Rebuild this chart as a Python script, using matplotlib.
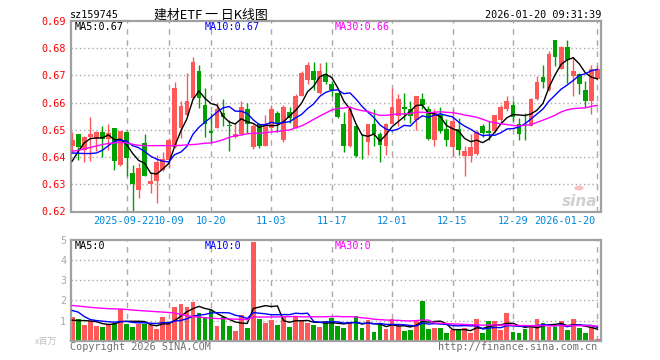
import numpy as np
import pandas as pd
import matplotlib
matplotlib.use("Agg")
import matplotlib.pyplot as plt
from matplotlib.patches import Circle

# ---------------- data ----------------
dates = [d for d in pd.bdate_range("2025-09-09", "2026-01-20")
         if not (pd.Timestamp("2025-10-01") <= d <= pd.Timestamp("2025-10-08"))
         and d not in (pd.Timestamp("2026-01-01"), pd.Timestamp("2026-01-02"))]

opens = [0.6442, 0.6483, 0.6425, 0.6474, 0.6467, 0.6493, 0.6468, 0.6505, 0.6372, 0.6493,
         0.6342, 0.6280, 0.6452, 0.6302, 0.6313, 0.6354, 0.6388, 0.6436, 0.6507, 0.6553,
         0.6618, 0.6716, 0.6593, 0.6494, 0.6507, 0.6562, 0.6517, 0.6474, 0.6483, 0.6575,
         0.6436, 0.6520, 0.6442, 0.6507, 0.6562, 0.6464, 0.6565, 0.6507, 0.6626, 0.6685,
         0.6716, 0.6634, 0.6707, 0.6667, 0.6634, 0.6523, 0.6442, 0.6516, 0.6442, 0.6454,
         0.6523, 0.6483, 0.6440, 0.6523, 0.6550, 0.6585, 0.6575, 0.6538, 0.6614, 0.6577,
         0.6464, 0.6553, 0.6504, 0.6436, 0.6504, 0.6403, 0.6403, 0.6413, 0.6516, 0.6494,
         0.6495, 0.6535, 0.6575, 0.6593, 0.6523, 0.6545, 0.6516, 0.6614, 0.6695, 0.6646,
         0.6829, 0.6724, 0.6805, 0.6697, 0.6707, 0.6646, 0.6605, 0.6688]
highs = [0.6491, 0.6485, 0.6477, 0.6547, 0.6495, 0.6516, 0.6523, 0.6507, 0.6497, 0.6495,
         0.6372, 0.6378, 0.6483, 0.6344, 0.6409, 0.6418, 0.6470, 0.6675, 0.6605, 0.6710,
         0.6767, 0.6737, 0.6654, 0.6562, 0.6599, 0.6614, 0.6538, 0.6526, 0.6605, 0.6599,
         0.6522, 0.6526, 0.6553, 0.6590, 0.6569, 0.6593, 0.6585, 0.6630, 0.6716, 0.6749,
         0.6749, 0.6746, 0.6749, 0.6679, 0.6636, 0.6565, 0.6585, 0.6518, 0.6483, 0.6523,
         0.6577, 0.6491, 0.6526, 0.6654, 0.6630, 0.6634, 0.6605, 0.6626, 0.6634, 0.6587,
         0.6575, 0.6585, 0.6540, 0.6575, 0.6544, 0.6440, 0.6483, 0.6501, 0.6523, 0.6532,
         0.6556, 0.6593, 0.6626, 0.6605, 0.6544, 0.6562, 0.6616, 0.6697, 0.6737, 0.6789,
         0.6830, 0.6808, 0.6829, 0.6769, 0.6710, 0.6679, 0.6737, 0.6737]
lows = [0.6418, 0.6391, 0.6381, 0.6385, 0.6421, 0.6400, 0.6427, 0.6351, 0.6366, 0.6329,
        0.6201, 0.6250, 0.6329, 0.6268, 0.6231, 0.6348, 0.6360, 0.6434, 0.6470, 0.6550,
        0.6615, 0.6581, 0.6474, 0.6452, 0.6505, 0.6516, 0.6421, 0.6470, 0.6480, 0.6489,
        0.6430, 0.6434, 0.6440, 0.6501, 0.6491, 0.6454, 0.6526, 0.6505, 0.6624, 0.6667,
        0.6648, 0.6630, 0.6667, 0.6624, 0.6544, 0.6418, 0.6437, 0.6400, 0.6393, 0.6409,
        0.6442, 0.6381, 0.6409, 0.6520, 0.6513, 0.6538, 0.6526, 0.6501, 0.6577, 0.6462,
        0.6440, 0.6489, 0.6440, 0.6400, 0.6409, 0.6329, 0.6381, 0.6409, 0.6474, 0.6462,
        0.6489, 0.6526, 0.6569, 0.6532, 0.6462, 0.6462, 0.6513, 0.6611, 0.6654, 0.6643,
        0.6734, 0.6722, 0.6673, 0.6626, 0.6630, 0.6585, 0.6560, 0.6685]
closes = [0.6464, 0.6436, 0.6474, 0.6483, 0.6493, 0.6467, 0.6489, 0.6385, 0.6495, 0.6397,
          0.6302, 0.6360, 0.6332, 0.6313, 0.6382, 0.6393, 0.6464, 0.6654, 0.6587, 0.6605,
          0.6749, 0.6618, 0.6520, 0.6490, 0.6575, 0.6547, 0.6513, 0.6483, 0.6585, 0.6520,
          0.6516, 0.6442, 0.6523, 0.6575, 0.6526, 0.6585, 0.6544, 0.6626, 0.6710, 0.6737,
          0.6685, 0.6716, 0.6675, 0.6646, 0.6547, 0.6442, 0.6575, 0.6403, 0.6439, 0.6522,
          0.6483, 0.6446, 0.6523, 0.6585, 0.6614, 0.6575, 0.6550, 0.6624, 0.6593, 0.6467,
          0.6562, 0.6495, 0.6464, 0.6534, 0.6425, 0.6424, 0.6436, 0.6491, 0.6489, 0.6490,
          0.6553, 0.6585, 0.6605, 0.6548, 0.6483, 0.6542, 0.6614, 0.6675, 0.6675, 0.6780,
          0.6769, 0.6805, 0.6756, 0.6716, 0.6667, 0.6605, 0.6724, 0.6724]
volumes = [1.16, 1.06, 0.78, 1.00, 0.73, 0.68, 0.83, 0.90, 1.58, 0.83,
           0.68, 0.83, 0.83, 0.78, 0.58, 1.16, 0.83, 1.68, 1.83, 1.68,
           1.93, 1.40, 1.16, 1.53, 0.73, 1.16, 0.73, 0.50, 1.26, 0.63,
           4.88, 1.08, 0.86, 1.03, 0.78, 1.23, 0.68, 1.23, 1.03, 0.86,
           0.78, 0.68, 1.00, 1.13, 0.73, 0.63, 0.90, 1.23, 0.63, 1.03,
           0.43, 0.83, 0.58, 1.08, 0.73, 0.48, 0.53, 1.03, 1.99, 0.58,
           0.63, 0.63, 0.38, 0.53, 0.58, 0.63, 0.38, 1.08, 0.38, 1.00,
           0.98, 0.53, 1.40, 0.43, 0.38, 0.58, 0.73, 1.08, 0.88, 0.68,
           0.68, 0.98, 0.53, 1.08, 0.63, 0.38, 0.68, 0.08]

# moving-average values visible before enough history exists
ma5_head = [0.6385, 0.6421, 0.6452, 0.6468]
ma10_head = [0.6415, 0.6414, 0.6413, 0.6413, 0.6415, 0.6425, 0.6442, 0.6458, 0.6462]
ma30_head = [0.6421, 0.6425, 0.6430, 0.6435, 0.6441, 0.6446, 0.6450, 0.6452, 0.6454, 0.6452,
             0.6447, 0.6443, 0.6442, 0.6442, 0.6442, 0.6442, 0.6442, 0.6442, 0.6443, 0.6445,
             0.6446, 0.6448, 0.6451, 0.6452, 0.6457, 0.6464, 0.6472, 0.6478, 0.6481]
vma5_head = [1.02, 1.00, 1.00, 0.98]
vma10_head = [1.50, 1.42, 1.20, 1.05, 1.00, 0.97, 0.94, 0.92, 0.95]
vma30_head = [1.75, 1.72, 1.69, 1.66, 1.63, 1.61, 1.59, 1.58, 1.57, 1.55,
              1.52, 1.50, 1.48, 1.46, 1.44, 1.42, 1.40, 1.38, 1.30, 1.24,
              1.20, 1.17, 1.14, 1.12, 1.10, 1.09, 1.08, 1.07, 1.06]

tick_dates = ["2025-09-22", "2025-10-09", "2025-10-20", "2025-11-03", "2025-11-17",
              "2025-12-01", "2025-12-15", "2025-12-29", "2026-01-20"]
tick_labels = ["2025-09-22", "10-09", "10-20", "11-03", "11-17",
               "12-01", "12-15", "12-29", "2026-01-20"]
price_ticks = [0.62, 0.63, 0.64, 0.65, 0.66, 0.67, 0.68, 0.69]
vol_ticks = [1, 2, 3, 4, 5]

code = "sz159745"
title = "建材ETF 一 日K线图"
stamp = "2026-01-20 09:31:39"
ma_price_labels = ["MA5:0.67", "MA10:0.67", "MA30:0.66"]
ma_vol_labels = ["MA5:0", "MA10:0", "MA30:0"]

# ---------------- helpers ----------------
def ma(values, n, head):
    s = pd.Series(values).rolling(n).mean().to_numpy()
    s[:len(head)] = head
    return s

RED = "#FF5858"
GREEN = "#00A000"
GRID = "#AAAAAA"
BORDER = "#A0A0A0"
MONO = "DejaVu Sans Mono"
FS = 7.3

W, H = 660, 360
fig = plt.figure(figsize=(6.6, 3.6), dpi=100)
fig.patch.set_facecolor("white")

def fx(px):
    return px / W

def fy(py):
    return 1 - py / H

L, R = 71, 601
ax = fig.add_axes([fx(L), fy(211.5), (R - L) / W, (211.5 - 21) / H])
axv = fig.add_axes([fx(L), fy(340.7), (R - L) / W, (340.7 - 240) / H])

n = len(closes)
x = np.arange(n)
o = np.array(opens); c = np.array(closes); h = np.array(highs); lo = np.array(lows)
v = np.array(volumes)
up = c >= o
cols = np.where(up, RED, GREEN)

date_index = {d.strftime("%Y-%m-%d"): i for i, d in enumerate(dates)}
tick_pos = [date_index[d] for d in tick_dates]

xlim = (-0.2, n - 0.4)
for a in (ax, axv):
    a.set_xlim(*xlim)
    for sp in a.spines.values():
        sp.set_color(BORDER)
        sp.set_linewidth(1.6)
    a.set_xticks([])
    a.tick_params(axis="y", length=0)
    for t in tick_pos:
        a.axvline(t, color=GRID, lw=1, ls=(0, (4, 4)), zorder=0)

# price panel
ax.set_ylim(price_ticks[0], price_ticks[-1])
for yv in price_ticks[1:-1]:
    ax.axhline(yv, color=GRID, lw=1, ls=(0, (1, 2)), zorder=0)
ax.vlines(x, lo, h, colors=cols, lw=1, zorder=2)
body = np.maximum(np.abs(c - o), 0.00025)
ax.bar(x, body, bottom=np.minimum(o, c), width=0.78, color=cols, zorder=3, linewidth=0)
ax.plot(x, ma(closes, 5, ma5_head), color="black", lw=1, zorder=4)
ax.plot(x, ma(closes, 10, ma10_head), color="#0000FF", lw=1, zorder=4)
ax.plot(x, ma(closes, 30, ma30_head), color="#FF00FF", lw=1, zorder=4)
ax.set_yticks(price_ticks)
ax.set_yticklabels([f"{t:.2f}" for t in price_ticks], color="#FF0000",
                   fontsize=FS, family=MONO)
ax.tick_params(axis="y", pad=3.5)

# volume panel
axv.set_ylim(0, vol_ticks[-1])
for yv in vol_ticks[:-1]:
    axv.axhline(yv, color=GRID, lw=1, ls=(0, (1, 2)), zorder=0)
axv.bar(x, v, width=0.78, color=cols, zorder=2, linewidth=0)
axv.plot(x, ma(volumes, 5, vma5_head), color="black", lw=1, zorder=4)
axv.plot(x, ma(volumes, 10, vma10_head), color="#0000FF", lw=1, zorder=4)
axv.plot(x, ma(volumes, 30, vma30_head), color="#FF00FF", lw=1, zorder=4)
axv.set_yticks(vol_ticks)
axv.set_yticklabels([str(t) for t in vol_ticks], color="#A8A8A8",
                    fontsize=FS, family=MONO)
axv.tick_params(axis="y", pad=3.5)

# date labels
last = len(tick_pos) - 1
for i, (t, lab) in enumerate(zip(tick_pos, tick_labels)):
    if i == last:
        fig.text(fx(595), fy(221), lab, ha="right", va="center", fontsize=FS,
                 family=MONO, color="#0088DD")
    else:
        xp = ax.transData.transform((t, 0))[0] / fig.dpi / 6.6
        if i == 0:
            # first label sits flush against the next one, as in the reference
            xp -= 2.5 / W
        fig.text(xp, fy(221), lab, ha="center", va="center", fontsize=FS,
                 family=MONO, color="#0088DD")

# header
fig.text(fx(70), fy(15), code, ha="left", va="center", fontsize=FS, family=MONO)
fig.text(fx(211), fy(15), title, ha="center", va="center", fontsize=9.3,
         family=["Noto Sans CJK SC", "DejaVu Sans"])
fig.text(fx(601), fy(15), stamp, ha="right", va="center", fontsize=FS, family=MONO)

ma_colors = ["black", "#0000FF", "#FF00FF"]
ma_x = [75, 205, 335]
for lab, col, xx in zip(ma_price_labels, ma_colors, ma_x):
    fig.text(fx(xx), fy(27), lab, ha="left", va="center", fontsize=FS, family=MONO, color=col)
for lab, col, xx in zip(ma_vol_labels, ma_colors, ma_x):
    fig.text(fx(xx), fy(246), lab, ha="left", va="center", fontsize=FS, family=MONO, color=col)

# footer / watermark
fig.text(fx(57), fy(341), "x百万", ha="right", va="center", fontsize=6.5,
         family=["Noto Sans CJK SC", "DejaVu Sans"], color="#C0C0C0")
fig.text(fx(70), fy(347), "Copyright 2026 SINA.COM", ha="left", va="center",
         fontsize=FS, family=MONO, color="#707070")
fig.text(fx(597), fy(347), "http://finance.sina.com.cn", ha="right", va="center",
         fontsize=FS, family=MONO, color="#707070")
fig.text(fx(597), fy(202), "sina", ha="right", va="center", fontsize=11,
         style="italic", weight="bold", color="#D0D0D0", family="DejaVu Sans")
fig.add_artist(Circle((fx(579), fy(188)), 4.5 / W, transform=fig.transFigure,
                      facecolor="#F6C0C0", edgecolor="none", zorder=5))

fig.savefig("out.png", dpi=100, facecolor="white")
